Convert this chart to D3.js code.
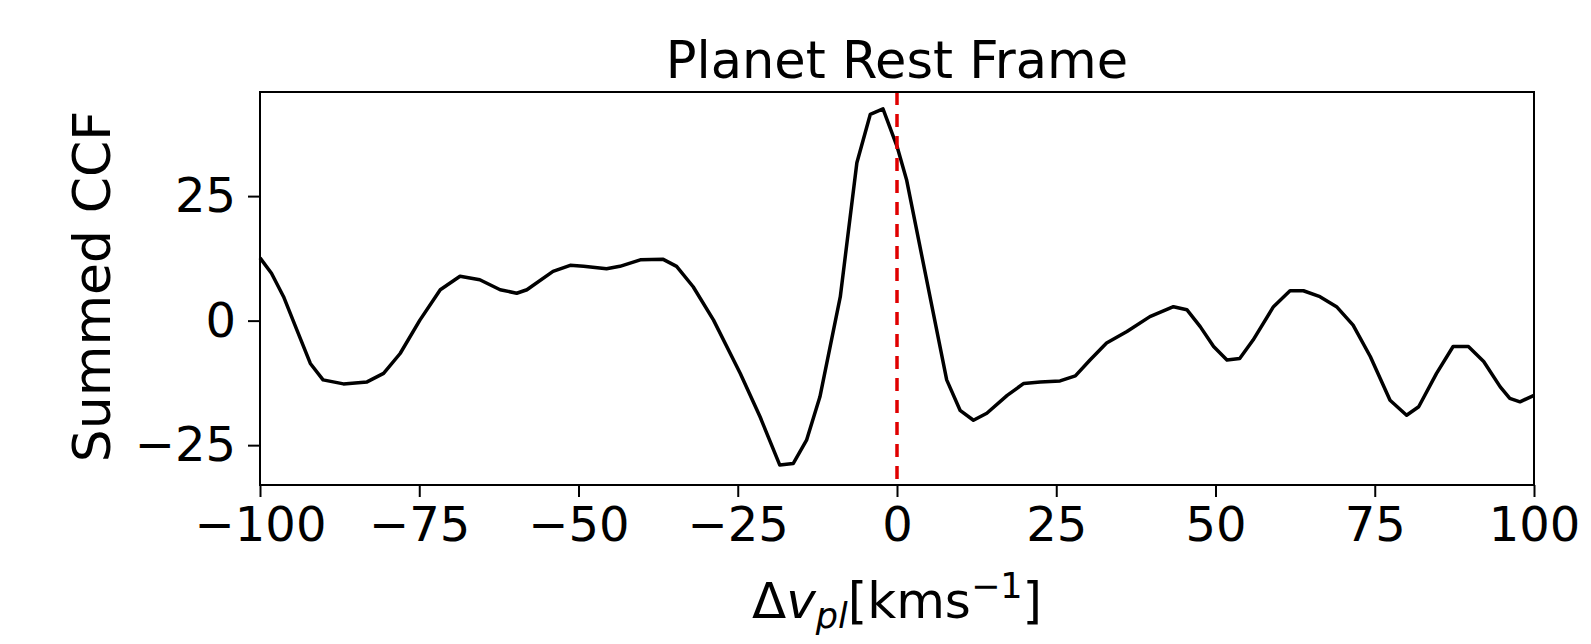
<!DOCTYPE html>
<html lang="en">

<head>
    <meta charset="UTF-8">
    <title>Planet Rest Frame</title>
    <style>
        body {
            margin: 0;
            background-color: white;
        }

        svg {
            background-color: white;
            font-family: "DejaVu Sans", sans-serif;
        }
    </style>
</head>

<body>
    <script src="https://cdn.jsdelivr.net/npm/d3@7"></script>
    <script>
        {
            // values
            let velocity = [-100, -98.2, -96.3, -94.2, -92.1, -90.1, -86.9, -83.2, -80.6, -78.0,
                -74.9, -71.7, -68.6, -65.5, -62.3, -59.7, -58.1, -54.0, -51.3, -49.2,
                -45.6, -43.5, -40.3, -36.7, -34.6, -32.0, -28.8, -24.6, -21.5, -18.4,
                -16.3, -14.2, -12.1, -8.9, -6.3, -4.2, -2.2, 0, 1.5, 3.6,
                5.7, 7.8, 9.9, 12.0, 14.1, 17.3, 19.9, 22.5, 25.6, 28.0,
                30.3, 32.9, 36.1, 39.7, 43.4, 45.5, 47.6, 49.7, 51.8, 53.8,
                55.9, 59.1, 61.7, 63.8, 66.4, 69.0, 71.6, 74.3, 77.4, 80.0,
                81.9, 84.7, 87.3, 89.7, 92.1, 94.7, 96.2, 97.8, 100];
            let summedCCF = [12.6, 9.5, 4.8, -1.9, -8.6, -11.9, -12.7, -12.3, -10.6, -6.6,
                0.1, 6.2, 8.9, 8.2, 6.2, 5.5, 6.2, 9.9, 11.1, 10.9,
                10.4, 10.9, 12.2, 12.3, 10.9, 6.8, 0.1, -10.6, -19.3, -29.0,
                -28.7, -24.0, -15.3, 4.8, 31.7, 41.4, 42.5, 35.0, 28.3, 14.9,
                1.5, -11.9, -18.0, -20.0, -18.6, -15.0, -12.6, -12.3, -12.1, -11.1,
                -7.9, -4.5, -2.2, 0.8, 2.8, 2.2, -1.2, -5.2, -7.9, -7.6,
                -3.9, 2.8, 6.0, 6.0, 4.8, 2.8, -0.9, -7.2, -16.0, -19.0,
                -17.3, -10.6, -5.2, -5.2, -8.2, -13.3, -15.6, -16.3, -15.0];
            let xTicks = [-100, -75, -50, -25, 0, 25, 50, 75, 100];
            let yTicks = [-25, 0, 25];
            let restVelocity = 0;

            let W = 1591, H = 644;
            let margin = { top: 92, right: 57, bottom: 159, left: 260 };
            let width = W - margin.left - margin.right;
            let height = H - margin.top - margin.bottom;

            let svg = d3.select('body')
                .append('svg')
                .attr('width', W)
                .attr('height', H);

            let x = d3.scaleLinear().domain([-100, 100]).range([0, width]);
            let y = d3.scaleLinear().domain([-33.0, 45.9]).range([height, 0]);

            let g = svg.append('g')
                .attr('transform', `translate(${margin.left},${margin.top})`);

            let minus = d => d3.format('d')(d).replace('-', '\u2212');

            let xAxis = g.append('g')
                .attr('transform', `translate(0,${height})`)
                .call(d3.axisBottom(x).tickValues(xTicks).tickSize(12).tickPadding(10).tickFormat(minus));
            let yAxis = g.append('g')
                .call(d3.axisLeft(y).tickValues(yTicks).tickSize(12).tickPadding(12).tickFormat(minus));

            [xAxis, yAxis].forEach(a => {
                a.select('.domain').remove();
                a.selectAll('line').attr('stroke', '#000').attr('stroke-width', 2);
                a.selectAll('text')
                    .attr('fill', '#000')
                    .attr('font-size', 48)
                    .attr('font-family', '"DejaVu Sans", sans-serif');
            });

            let line = d3.line()
                .x((d, i) => x(velocity[i]))
                .y(d => y(d));

            g.append('path')
                .datum(summedCCF)
                .attr('d', line)
                .attr('fill', 'none')
                .attr('stroke', '#000')
                .attr('stroke-width', 3.5)
                .attr('stroke-linejoin', 'round');

            g.append('line')
                .attr('x1', x(restVelocity)).attr('x2', x(restVelocity))
                .attr('y1', 0).attr('y2', height)
                .attr('stroke', '#e00000')
                .attr('stroke-width', 3.5)
                .attr('stroke-dasharray', '13,9');

            // frame
            g.append('rect')
                .attr('width', width).attr('height', height)
                .attr('fill', 'none')
                .attr('stroke', '#000')
                .attr('stroke-width', 2);

            svg.append('text')
                .attr('x', margin.left + width / 2)
                .attr('y', 78)
                .attr('text-anchor', 'middle')
                .attr('font-size', 51)
                .text('Planet Rest Frame');

            svg.append('text')
                .attr('transform', `translate(110,${margin.top + height / 2 - 2}) rotate(-90)`)
                .attr('text-anchor', 'middle')
                .attr('font-size', 52)
                .text('Summed CCF');

            let xl = svg.append('text')
                .attr('x', margin.left + width / 2)
                .attr('y', 618)
                .attr('text-anchor', 'middle')
                .attr('font-size', 50);
            xl.append('tspan').text('\u0394');
            xl.append('tspan').attr('font-style', 'italic').text('v');
            xl.append('tspan').attr('font-style', 'italic').attr('font-size', 35).attr('dy', 10).text('pl');
            xl.append('tspan').attr('dy', -10).text('[kms');
            xl.append('tspan').attr('font-size', 35).attr('dy', -20).text('\u22121');
            xl.append('tspan').attr('dy', 20).text(']');
        }
    </script>
</body>

</html>
